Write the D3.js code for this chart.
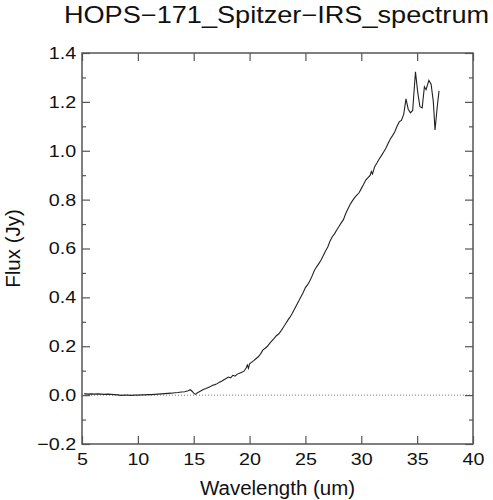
<!DOCTYPE html>
<html>
<head>
<meta charset="utf-8">
<script src="https://cdn.jsdelivr.net/npm/d3@7"></script>
<style>
  body { margin: 0; background: #fff; }
  text { font-family: "Liberation Sans", Arial, sans-serif; fill: #111; }
</style>
</head>
<body>
<div class="chart"></div>
<script>
var w = 493;
var h = 500;
var margin = {top: 53, right: 20, bottom: 56, left: 82};
var stretch = 1.16; // the original lettering is a bit wider than Arial

var title = "HOPS\u2212171_Spitzer\u2212IRS_spectrum";
var xLabel = "Wavelength (um)";
var yLabel = "Flux (Jy)";

var xTicks = [5, 10, 15, 20, 25, 30, 35, 40];
var yTicks = [-0.2, 0.0, 0.2, 0.4, 0.6, 0.8, 1.0, 1.2, 1.4];
var yMinorTicks = [-0.1, 0.1, 0.3, 0.5, 0.7, 0.9, 1.1, 1.3];

// spectrum
var wavelength = [
  5.2, 5.5, 5.8, 6.1, 6.4, 6.7, 7.0, 7.3, 7.6, 7.9,
  8.2, 8.5, 8.8, 9.1, 9.4, 9.7, 10.0, 10.3, 10.6, 10.9,
  11.2, 11.5, 11.8, 12.1, 12.4, 12.7, 13.0, 13.3, 13.6, 13.9,
  14.2, 14.5, 14.7, 14.85, 15.0, 15.15, 15.3, 15.5, 15.7, 15.9,
  16.1, 16.3, 16.5, 16.7, 16.9, 17.1, 17.3, 17.5, 17.7, 17.9,
  18.1, 18.3, 18.5, 18.7, 18.9, 19.1, 19.3, 19.5, 19.7, 19.8,
  19.9, 20.0, 20.2, 20.4, 20.6, 20.8, 21.0, 21.2, 21.4, 21.6,
  21.8, 22.0, 22.2, 22.4, 22.6, 22.8, 23.0, 23.2, 23.4, 23.6,
  23.8, 24.0, 24.2, 24.4, 24.6, 24.8, 25.0, 25.2, 25.4, 25.6,
  25.8, 26.0, 26.2, 26.4, 26.6, 26.8, 27.0, 27.2, 27.4, 27.6,
  27.8, 28.0, 28.2, 28.4, 28.6, 28.8, 29.0, 29.2, 29.4, 29.6,
  29.8, 30.0, 30.2, 30.4, 30.6, 30.8, 30.9, 31.0, 31.2, 31.4,
  31.6, 31.8, 32.0, 32.2, 32.4, 32.6, 32.8, 33.0, 33.2, 33.4,
  33.6, 33.8, 34.0, 34.2, 34.4, 34.6, 34.85, 35.05, 35.25, 35.45,
  35.65, 35.8, 36.05, 36.25, 36.45, 36.6, 36.8, 36.96
];
var flux = [
  0.006, 0.004, 0.005, 0.004, 0.005, 0.004, 0.003, 0.004, 0.003, 0.002,
  0.001, -0.001, 0.000, 0.000, -0.001, 0.000, 0.000, 0.001, 0.001, 0.002,
  0.002, 0.003, 0.004, 0.005, 0.006, 0.007, 0.008, 0.010, 0.011, 0.013,
  0.014, 0.018, 0.022, 0.016, 0.008, 0.003, 0.009, 0.014, 0.019, 0.024,
  0.027, 0.031, 0.035, 0.040, 0.043, 0.047, 0.053, 0.057, 0.063, 0.068,
  0.074, 0.071, 0.081, 0.078, 0.086, 0.090, 0.094, 0.098, 0.112, 0.123,
  0.110, 0.128, 0.135, 0.142, 0.150, 0.158, 0.170, 0.185, 0.192, 0.200,
  0.212, 0.222, 0.232, 0.243, 0.250, 0.262, 0.276, 0.290, 0.305, 0.318,
  0.333, 0.350, 0.368, 0.385, 0.403, 0.420, 0.440, 0.452, 0.468, 0.488,
  0.510, 0.525, 0.538, 0.553, 0.571, 0.590, 0.606, 0.630, 0.648, 0.660,
  0.676, 0.690, 0.705, 0.718, 0.742, 0.762, 0.780, 0.795, 0.808, 0.818,
  0.828, 0.845, 0.862, 0.880, 0.890, 0.900, 0.915, 0.905, 0.935, 0.950,
  0.966, 0.980, 0.995, 1.010, 1.030, 1.048, 1.062, 1.078, 1.100, 1.118,
  1.125, 1.150, 1.212, 1.170, 1.155, 1.165, 1.323, 1.240, 1.180, 1.175,
  1.262, 1.250, 1.288, 1.272, 1.200, 1.085, 1.180, 1.245
];

var data = wavelength.map(function(d, i) {
  return {wl: d, f: flux[i]};
});

var pw = w - margin.left - margin.right;
var ph = h - margin.top - margin.bottom;

var xScale = d3.scaleLinear()
  .domain([5, 40])
  .range([0, pw]);
var yScale = d3.scaleLinear()
  .domain([-0.2, 1.4])
  .range([ph, 0]);

var svg = d3.select(".chart")
  .append("svg")
  .attr("width", w)
  .attr("height", h);

svg.append("g")
  .attr("transform", "translate(" + (margin.left + pw / 2 - 1) + ",23) scale(1.18,1)")
  .append("text")
  .attr("text-anchor", "middle")
  .style("font-size", "23px")
  .text(title);

var g = svg.append("g")
  .attr("transform", "translate(" + margin.left + "," + margin.top + ")");

// zero line
g.append("line")
  .attr("x1", 0)
  .attr("x2", pw)
  .attr("y1", yScale(0))
  .attr("y2", yScale(0))
  .attr("stroke", "#777")
  .attr("stroke-width", 1)
  .attr("stroke-dasharray", "1,2");

var line = d3.line()
  .x(function(d) { return xScale(d.wl); })
  .y(function(d) { return yScale(d.f); });

g.append("path")
  .datum(data)
  .attr("d", line)
  .attr("fill", "none")
  .attr("stroke", "#222")
  .attr("stroke-width", 1.1);

// axes, ticks pointing inward
var xAxis = d3.axisBottom(xScale)
  .tickValues(xTicks)
  .tickFormat(d3.format("d"))
  .tickSizeInner(-8)
  .tickSizeOuter(0)
  .tickPadding(9);
var xAxisTop = d3.axisTop(xScale)
  .tickValues(xTicks)
  .tickFormat("")
  .tickSizeInner(-8)
  .tickSizeOuter(0);
var yAxis = d3.axisLeft(yScale)
  .tickValues(yTicks)
  .tickFormat(d3.format(".1f"))
  .tickSizeInner(-8)
  .tickSizeOuter(0)
  .tickPadding(5);
var yAxisRight = d3.axisRight(yScale)
  .tickValues(yTicks)
  .tickFormat("")
  .tickSizeInner(-8)
  .tickSizeOuter(0);
var yMinor = d3.axisLeft(yScale)
  .tickValues(yMinorTicks)
  .tickFormat("")
  .tickSizeInner(-4)
  .tickSizeOuter(0);
var yMinorRight = d3.axisRight(yScale)
  .tickValues(yMinorTicks)
  .tickFormat("")
  .tickSizeInner(-4)
  .tickSizeOuter(0);

function styleAxis(sel) {
  sel.select(".domain").remove();
  sel.selectAll("line").attr("stroke", "#555").attr("stroke-width", 1.2);
  sel.selectAll("text")
    .attr("class", "axis-text")
    .attr("transform", "scale(" + stretch + ",1)")
    .style("font-size", "17px")
    .style("font-family", "'Liberation Sans', Arial, sans-serif")
    .attr("fill", "#111");
}

g.append("g").attr("transform", "translate(0," + ph + ")").call(xAxis).call(styleAxis);
g.append("g").call(xAxisTop).call(styleAxis);
g.append("g").call(yAxis).call(styleAxis);
g.append("g").attr("transform", "translate(" + pw + ",0)").call(yAxisRight).call(styleAxis);
g.append("g").call(yMinor).call(styleAxis);
g.append("g").attr("transform", "translate(" + pw + ",0)").call(yMinorRight).call(styleAxis);

// frame
g.append("rect")
  .attr("x", 0)
  .attr("y", 0)
  .attr("width", pw)
  .attr("height", ph)
  .attr("fill", "none")
  .attr("stroke", "#555")
  .attr("stroke-width", 1.5);

svg.append("g")
  .attr("transform", "translate(" + (margin.left + pw / 2) + ",495) scale(1.05,1)")
  .append("text")
  .attr("text-anchor", "middle")
  .style("font-size", "19.5px")
  .text(xLabel);

svg.append("g")
  .attr("transform", "translate(20," + (margin.top + ph / 2) + ") rotate(-90) scale(1.05,1)")
  .append("text")
  .attr("text-anchor", "middle")
  .style("font-size", "19.5px")
  .text(yLabel);
</script>
</body>
</html>
